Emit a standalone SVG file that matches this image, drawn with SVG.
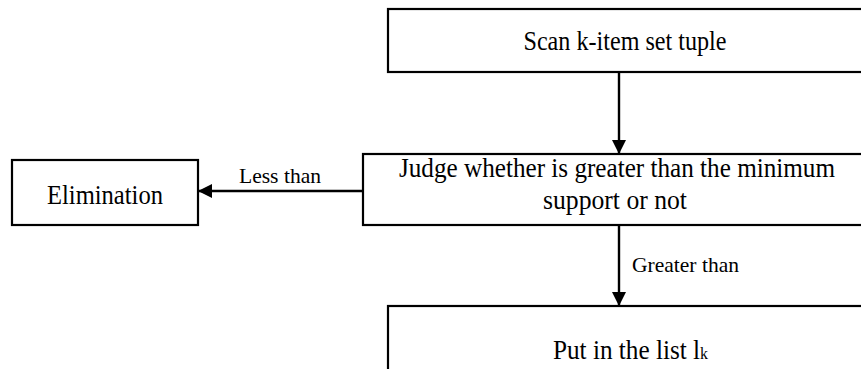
<svg xmlns="http://www.w3.org/2000/svg" width="861" height="369" viewBox="0 0 861 369">
<defs>
<style>
.box{fill:#fff;stroke:#000;stroke-width:2.2}
.t{font-family:"Liberation Serif","Times New Roman",serif;fill:#000}
.big{font-size:27px}
.sm{font-size:21px}
.ln{stroke:#000;stroke-width:2.4;fill:none}
</style>
<marker id="ah" markerUnits="userSpaceOnUse" markerWidth="14" markerHeight="14" viewBox="0 0 14 14" refX="14" refY="7" orient="auto">
<path d="M0,0 L14,7 L0,14 Z" fill="#000"/>
</marker>
</defs>
<rect width="861" height="369" fill="#fff"/>
<g id="connectors">
<line class="ln" x1="619" y1="72" x2="619" y2="154" marker-end="url(#ah)"/>
<line class="ln" x1="363" y1="191" x2="198" y2="191" marker-end="url(#ah)"/>
<line class="ln" x1="619" y1="225" x2="619" y2="306" marker-end="url(#ah)"/>
<text class="t sm" x="239" y="183" textLength="82" lengthAdjust="spacingAndGlyphs">Less than</text>
<text class="t sm" x="632" y="272" textLength="107" lengthAdjust="spacingAndGlyphs">Greater than</text>
</g>
<g id="scan">
<rect class="box" x="388" y="9" width="490" height="63"/>
<text class="t big" x="625" y="50" text-anchor="middle" textLength="203" lengthAdjust="spacingAndGlyphs">Scan k-item set tuple</text>
</g>
<g id="judge">
<rect class="box" x="363" y="154" width="515" height="71"/>
<text class="t big" x="617" y="177" text-anchor="middle" textLength="436" lengthAdjust="spacingAndGlyphs">Judge whether is greater than the minimum</text>
<text class="t big" x="615" y="209" text-anchor="middle" textLength="144" lengthAdjust="spacingAndGlyphs">support or not</text>
</g>
<g id="elimination">
<rect class="box" x="12" y="160" width="186" height="65"/>
<text class="t big" x="105" y="204" text-anchor="middle" textLength="116" lengthAdjust="spacingAndGlyphs">Elimination</text>
</g>
<g id="put">
<rect class="box" x="388" y="306" width="490" height="80"/>
<text class="t big" x="553" y="359" textLength="155" lengthAdjust="spacingAndGlyphs">Put in the list l<tspan font-size="17">k</tspan></text>
</g>
</svg>
